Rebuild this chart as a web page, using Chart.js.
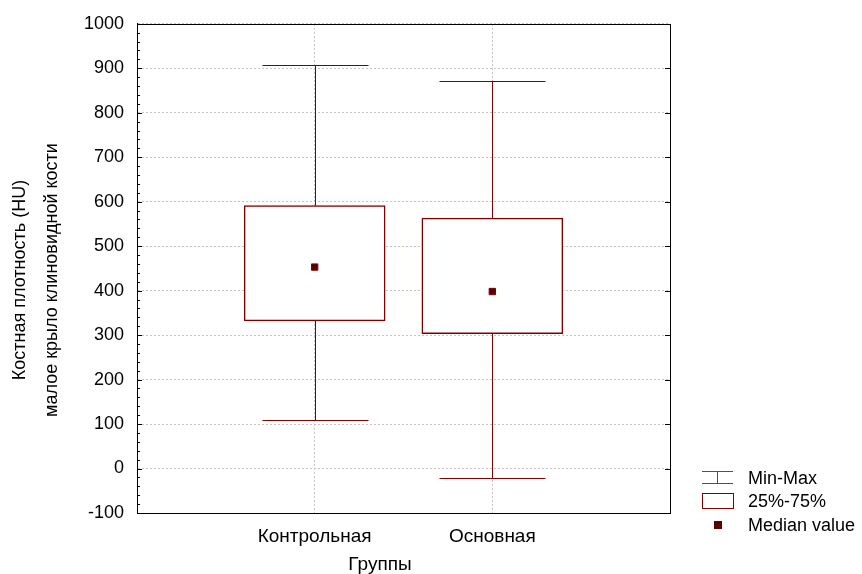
<!DOCTYPE html>
<html>
<head>
<meta charset="utf-8">
<script src="https://cdn.jsdelivr.net/npm/chart.js@4.4.1/dist/chart.umd.min.js"></script>
<style>
  html, body { margin: 0; padding: 0; background: #fff; }
</style>
</head>
<body>
<canvas id="chart" width="862" height="574"></canvas>
<script>
// ── Data ──
const groups = ['Контрольная', 'Основная']
const groupPos = [1, 2]
const minVals = [110, -21]
const q1Vals = [332, 303]
const medianVals = [453, 398]
const q3Vals = [591, 563]
const maxVals = [908, 872]
const yMin = -100
const yMax = 1000
const yStep = 100

const yTitle = ['Костная плотность (HU)', 'малое крыло клиновидной кости']
const xTitle = 'Группы'
const legendLabels = ['Min-Max', '25%-75%', 'Median value']

const MAROON = '#800000'
const FONT = "'Liberation Sans', Arial, sans-serif"

// whiskers, frame, minor ticks, titles, legend
const boxExtras = {
  id: 'boxExtras',
  beforeDatasetsDraw (chart) {
    const { ctx, scales: { x, y } } = chart
    ctx.save()
    ctx.strokeStyle = MAROON
    ctx.lineWidth = 1
    groupPos.forEach((g, i) => {
      const px = Math.round(x.getPixelForValue(g)) + 0.5
      const yMinPx = Math.round(y.getPixelForValue(minVals[i])) + 0.5
      const yMaxPx = Math.round(y.getPixelForValue(maxVals[i])) + 0.5
      ctx.beginPath()
      ctx.moveTo(px, yMaxPx); ctx.lineTo(px, y.getPixelForValue(q3Vals[i]))
      ctx.moveTo(px, y.getPixelForValue(q1Vals[i])); ctx.lineTo(px, yMinPx)
      ctx.moveTo(px - 53, yMaxPx); ctx.lineTo(px + 53, yMaxPx)
      ctx.moveTo(px - 53, yMinPx); ctx.lineTo(px + 53, yMinPx)
      ctx.stroke()
    })
    ctx.restore()
  },
  afterDraw (chart) {
    const { ctx, chartArea: a, scales: { y } } = chart
    ctx.save()
    // frame
    ctx.strokeStyle = '#000'
    ctx.lineWidth = 1
    ctx.setLineDash([])
    ctx.strokeRect(Math.round(a.left) + 0.5, Math.round(a.top) + 0.5,
      Math.round(a.right - a.left), Math.round(a.bottom - a.top))
    // minor ticks on the left, major ticks on the right
    ctx.beginPath()
    for (let v = yMin; v <= yMax; v += 20) {
      const py = Math.round(y.getPixelForValue(v)) + 0.5
      const major = v % 100 === 0
      ctx.moveTo(a.left, py); ctx.lineTo(a.left + (major ? 5 : 3), py)
      if (major) { ctx.moveTo(a.right, py); ctx.lineTo(a.right - 5, py) }
    }
    ctx.stroke()

    // axis titles
    ctx.fillStyle = '#000'
    ctx.font = '18px ' + FONT
    ctx.textAlign = 'center'
    ctx.textBaseline = 'middle'
    ctx.save()
    ctx.translate(20, 280); ctx.rotate(-Math.PI / 2)
    ctx.fillText(yTitle[0], 0, 0)
    ctx.restore()
    ctx.save()
    ctx.translate(52, 280); ctx.rotate(-Math.PI / 2)
    ctx.fillText(yTitle[1], 0, 0)
    ctx.restore()
    ctx.font = '19px ' + FONT
    ctx.fillText(xTitle, 380, 565)

    // legend
    ctx.strokeStyle = '#a03030'
    ctx.beginPath()
    ctx.moveTo(702, 471.5); ctx.lineTo(733, 471.5)
    ctx.moveTo(717.5, 471.5); ctx.lineTo(717.5, 483.5)
    ctx.moveTo(702, 483.5); ctx.lineTo(733, 483.5)
    ctx.stroke()
    ctx.strokeStyle = MAROON
    ctx.strokeRect(702.5, 493.5, 31, 15)
    ctx.fillStyle = '#5a0000'
    ctx.fillRect(714, 521, 8, 8)
    ctx.fillStyle = '#000'
    ctx.font = '18px ' + FONT
    ctx.textAlign = 'left'
    ctx.fillText(legendLabels[0], 748, 479)
    ctx.fillText(legendLabels[1], 748, 502)
    ctx.fillText(legendLabels[2], 748, 526)
    ctx.restore()
  }
}

new Chart(document.getElementById('chart'), {
  data: {
    datasets: [
      {
        type: 'scatter',
        label: legendLabels[2],
        order: 0,
        data: groupPos.map((g, i) => ({ x: g, y: medianVals[i] })),
        pointStyle: 'rect',
        pointRadius: 4.5,
        backgroundColor: '#5a0000',
        borderColor: MAROON,
        borderWidth: 1
      },
      {
        type: 'bar',
        label: legendLabels[1],
        order: 1,
        data: groupPos.map((g, i) => ({ x: g, y: [q1Vals[i], q3Vals[i]] })),
        backgroundColor: '#fff',
        borderColor: MAROON,
        borderWidth: 1.5,
        borderSkipped: false,
        barThickness: 141
      }
    ]
  },
  options: {
    responsive: false,
    animation: false,
    devicePixelRatio: 1,
    layout: { padding: { left: 0, top: 22, right: 192, bottom: 0 } },
    plugins: { legend: { display: false }, tooltip: { enabled: false } },
    scales: {
      x: {
        type: 'linear',
        min: 0,
        max: 3,
        offset: false,
        afterFit: s => { s.height = 61 },
        ticks: {
          stepSize: 1,
          padding: 12,
          color: '#000',
          font: { family: FONT, size: 19 },
          callback: v => groups[groupPos.indexOf(v)] || ''
        },
        grid: { color: '#c4c4c4', drawTicks: false, offset: false },
        border: { color: '#000', dash: [2, 2] }
      },
      y: {
        min: yMin,
        max: yMax,
        afterFit: s => { s.width = 137 },
        ticks: {
          stepSize: yStep,
          padding: 13,
          color: '#000',
          font: { family: FONT, size: 18 },
          callback: v => String(v)
        },
        grid: { color: '#c4c4c4', drawTicks: false },
        border: { color: '#000', dash: [2, 2] }
      }
    }
  },
  plugins: [boxExtras]
})
</script>
</body>
</html>
